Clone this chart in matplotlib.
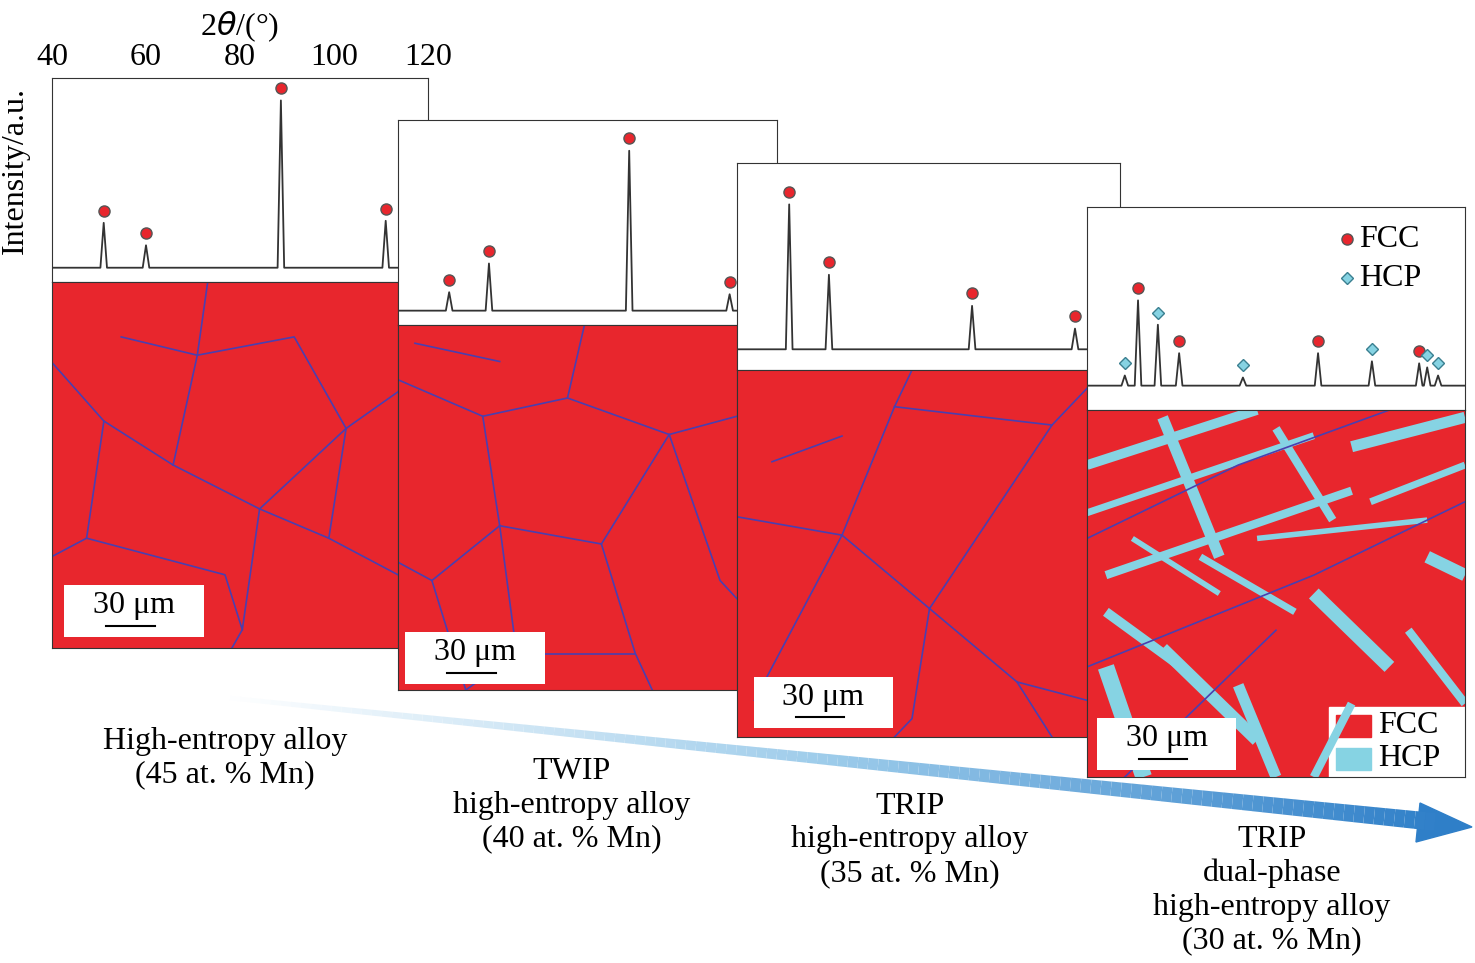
import numpy as np
import matplotlib
matplotlib.use("Agg")
import matplotlib.pyplot as plt
from matplotlib.patches import Rectangle, Polygon

plt.rcParams['font.family'] = ['Liberation Serif', 'DejaVu Serif']

W, H = 1475, 963

# XRD panels: peak positions (2theta) and heights (axes fraction)
p1_fcc_pos = [51.0, 60.0, 88.7, 111.0]
p1_fcc_h = [0.29, 0.18, 0.89, 0.30]
p2_fcc_pos = [50.8, 59.2, 88.8, 110.0]
p2_fcc_h = [0.16, 0.30, 0.85, 0.15]
p3_fcc_pos = [50.9, 59.2, 89.1, 110.6]
p3_fcc_h = [0.80, 0.46, 0.31, 0.20]
p4_fcc_pos = [50.8, 59.5, 88.9, 110.3]
p4_fcc_h = [0.54, 0.28, 0.28, 0.23]
p4_hcp_pos = [48.0, 55.0, 73.0, 100.3, 112.0, 114.3]
p4_hcp_h = [0.17, 0.42, 0.16, 0.24, 0.21, 0.17]

tick_labels = [40, 60, 80, 100, 120]

labels = ["High-entropy alloy\n(45 at. % Mn)",
          "TWIP\nhigh-entropy alloy\n(40 at. % Mn)",
          "TRIP\nhigh-entropy alloy\n(35 at. % Mn)",
          "TRIP\ndual-phase\nhigh-entropy alloy\n(30 at. % Mn)"]

# grain boundaries (axes fraction polylines)
gb1 = [[(0, .78), (.15, .62), (.35, .5), (.6, .38), (.8, .3), (1, .2)],
       [(.35, .5), (.42, .8), (.45, 1)], [(.6, .38), (.55, .05), (.52, 0)],
       [(.15, .62), (.1, .3), (0, .25)], [(.8, .3), (.85, .6), (1, .7)],
       [(.42, .8), (.7, .85), (.85, .6)], [(.1, .3), (.5, .2), (.55, .05)],
       [(.2, .85), (.42, .8)], [(.6, .38), (.85, .6)]]
gb2 = [[(0, .85), (.25, .75), (.5, .8), (.8, .7), (1, .75)],
       [(.25, .75), (.3, .45), (.1, .3), (0, .35)], [(.3, .45), (.6, .4), (.8, .7)],
       [(.6, .4), (.7, .1), (.75, 0)], [(.1, .3), (.2, 0)], [(.3, .45), (.35, .1), (.2, 0)],
       [(.5, .8), (.55, 1)], [(.8, .7), (.95, .3), (1, .25)], [(.35, .1), (.7, .1)],
       [(.05, .95), (.3, .9)]]
gb3 = [[(0, .6), (.3, .55), (.55, .35), (.8, .15), (1, .1)],
       [(.3, .55), (.45, .9), (.5, 1)], [(.55, .35), (.9, .85), (1, .95)],
       [(.1, .75), (.3, .82)], [(.05, .1), (.3, .55)], [(.55, .35), (.5, .05), (.45, 0)],
       [(.8, .15), (.9, 0)], [(.45, .9), (.9, .85)]]
gb4 = [[(0, .3), (.6, .55), (1, .75)], [(0, .65), (.4, .85), (.8, 1)], [(.1, .0), (.5, .4)]]
# HCP laths in panel 4 (axes fraction segments, linewidth)
hcp4 = [[(0, .85), (.45, 1.0), 7], [(0, .72), (.6, .93), 5], [(.05, .55), (.7, .78), 6],
        [(.2, .98), (.35, .6), 8], [(.5, .95), (.65, .7), 6], [(.7, .9), (1, .98), 8],
        [(.75, .75), (1, .85), 5], [(.9, .6), (1, .55), 9], [(.6, .5), (.8, .3), 10],
        [(.05, .45), (.25, .3), 7], [(.2, .35), (.45, .1), 9], [(.05, .3), (.15, 0), 12],
        [(.4, .25), (.5, 0), 8], [(.7, .2), (.6, 0), 6], [(.3, .6), (.55, .45), 5],
        [(.85, .4), (1, .2), 6], [(.12, .65), (.35, .5), 4], [(.45, .65), (.9, .7), 4]]

RED = "#e8262d"
BLUE = "#4a3fb0"
CYAN = "#86d3e3"
FS = 23

fig = plt.figure(figsize=(W / 100, H / 100), dpi=100)


def ax_px(x0, y0, x1, y1):
    return fig.add_axes([x0 / W, 1 - y1 / H, (x1 - x0) / W, (y1 - y0) / H])


def xrd(box, base, fcc_pos, fcc_h, hcp_pos=(), hcp_h=(), first=False):
    ax = ax_px(*box)
    allp = sorted(list(zip(fcc_pos, fcc_h)) + list(zip(hcp_pos, hcp_h)))
    xs, ys = [40], [base]
    for p, h in allp:
        xs += [p - 0.7, p, p + 0.7]
        ys += [base, h, base]
    xs.append(120)
    ys.append(base)
    ax.plot(xs, ys, color="#333333", lw=1.3)
    ax.plot(fcc_pos, np.array(fcc_h) + 0.06, 'o', ms=8, mfc=RED, mec="#555555")
    if len(hcp_pos):
        ax.plot(hcp_pos, np.array(hcp_h) + 0.06, 'D', ms=6.5, mfc=CYAN, mec="#3a7f90")
    ax.set_xlim(40, 120)
    ax.set_ylim(0, 1)
    ax.set_yticks([])
    if first:
        ax.xaxis.tick_top()
        ax.set_xticks(tick_labels)
        ax.tick_params(axis='x', labelsize=FS, length=0, pad=4)
    else:
        ax.set_xticks([])
    for s in ax.spines.values():
        s.set_color("#333333")
    return ax


def micro(box, gbs, laths=(), bar_box=None):
    ax = ax_px(*box)
    ax.set_xlim(0, 1)
    ax.set_ylim(0, 1)
    ax.add_patch(Rectangle((0, 0), 1, 1, color=RED))
    for a, b, lw in laths:
        ax.plot([a[0], b[0]], [a[1], b[1]], color=CYAN, lw=lw, solid_capstyle='butt')
    for g in gbs:
        g = np.array(g)
        ax.plot(g[:, 0], g[:, 1], color=BLUE, lw=1.2)
    ax.set_xticks([])
    ax.set_yticks([])
    for s in ax.spines.values():
        s.set_color("#333333")
    return ax


def scalebar(x0, y0, x1, y1):
    ax = ax_px(x0, y0, x1, y1)
    ax.set_xlim(0, 1)
    ax.set_ylim(0, 1)
    ax.axis('off')
    ax.add_patch(Rectangle((0, 0), 1, 1, color="white"))
    ax.text(0.5, 0.6, "30 μm", ha='center', va='center', fontsize=FS)
    ax.plot([0.3, 0.65], [0.22, 0.22], color="black", lw=1.5)


a1 = xrd((52, 78, 428, 282), 0.07, p1_fcc_pos, p1_fcc_h, first=True)
a1.set_xlabel("2$\\theta$/(°)", fontsize=FS, labelpad=6)
a1.xaxis.set_label_position('top')
fig.text(15 / W, 1 - 170 / H, "Intensity/a.u.", rotation=90, fontsize=FS, ha='center', va='center')
micro((52, 282, 398, 648), gb1)
scalebar(64, 585, 204, 637)

xrd((398, 120, 777, 325), 0.07, p2_fcc_pos, p2_fcc_h)
micro((398, 325, 737, 690), gb2)
scalebar(405, 632, 545, 684)

xrd((737, 163, 1120, 370), 0.10, p3_fcc_pos, p3_fcc_h)
micro((737, 370, 1087, 737), gb3)
scalebar(754, 677, 893, 728)

a4 = xrd((1087, 207, 1465, 410), 0.12, p4_fcc_pos, p4_fcc_h, p4_hcp_pos, p4_hcp_h)
a4.plot([95], [0.84], 'o', ms=8, mfc=RED, mec="#555555")
a4.text(97.5, 0.84, "FCC", fontsize=FS, va='center')
a4.plot([95], [0.65], 'D', ms=6.5, mfc=CYAN, mec="#3a7f90")
a4.text(97.5, 0.65, "HCP", fontsize=FS, va='center')
m4 = micro((1087, 410, 1465, 777), gb4, hcp4)
m4.add_patch(Rectangle((0.64, 0.0), 0.36, 0.19, color="white"))
m4.add_patch(Rectangle((0.66, 0.11), 0.09, 0.06, color=RED))
m4.add_patch(Rectangle((0.66, 0.02), 0.09, 0.06, color=CYAN))
m4.text(0.77, 0.14, "FCC", fontsize=FS, va='center')
m4.text(0.77, 0.05, "HCP", fontsize=FS, va='center')
scalebar(1097, 718, 1236, 770)

# overlay for arrow and labels
ov = fig.add_axes([0, 0, 1, 1], zorder=-1)
ov.set_xlim(0, W)
ov.set_ylim(H, 0)
ov.axis('off')
n = 120
xs = np.linspace(220, 1435, n + 1)
ys = np.linspace(697, 822, n + 1)
cmap = matplotlib.colors.LinearSegmentedColormap.from_list("a", ["#ffffff", "#9ccbea", "#2f7fc8"])
for i in range(n):
    ov.plot(xs[i:i + 2], ys[i:i + 2], color=cmap(i / n), lw=3 + 10 * i / n, solid_capstyle='butt')
ov.add_patch(Polygon([(1420, 803), (1472, 827), (1416, 842)], closed=True, color="#2f7fc8"))

label_pos = [(225, 758), (572, 805), (910, 840), (1272, 890)]
for (x, y), t in zip(label_pos, labels):
    ov.text(x, y, t, ha='center', va='center', fontsize=FS, linespacing=1.2, zorder=5)

fig.savefig("out.png", dpi=100)
